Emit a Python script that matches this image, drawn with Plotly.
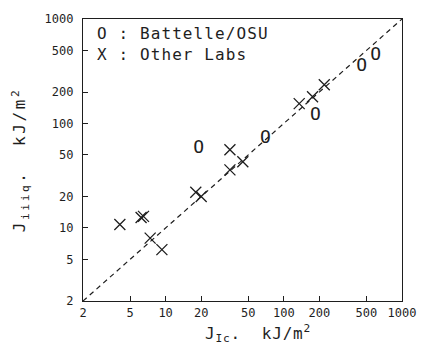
import plotly.graph_objects as go

# Battelle/OSU data (J_Ic, J_iiiq)
osu_jic = [19, 70, 185, 455, 600]
osu_jq = [57, 72, 120, 350, 450]

# Other labs data
oth_jic = [4.1, 6.2, 6.5, 7.4, 9.3, 18, 20, 35, 35, 45, 135, 175, 220]
oth_jq = [10.8, 12.6, 12.9, 8.0, 6.2, 22, 20, 56, 36, 43, 155, 180, 235]

line_x = [2, 1000]
line_y = [2, 1000]

tickvals = [2, 5, 10, 20, 50, 100, 200, 500, 1000]
ticktext = ["2", "5", "10", "20", "50", "100", "200", "500", "1000"]

ink = "#1e1e1e"
mono = "DejaVu Sans Mono"


def spaced(s, px):
    return '<span style="letter-spacing:%spx">%s</span>' % (px, s)


fig = go.Figure()
fig.add_trace(go.Scatter(x=line_x, y=line_y, mode="lines",
                         line=dict(color=ink, width=1.2, dash="5px,4px"),
                         hoverinfo="skip", showlegend=False))
fig.add_trace(go.Scatter(x=oth_jic, y=oth_jq, mode="markers",
                         marker=dict(symbol="x-thin-open", size=11, color=ink,
                                     line=dict(color=ink, width=1.3)),
                         showlegend=False))
fig.add_trace(go.Scatter(x=osu_jic, y=osu_jq, mode="text", text=["O"] * len(osu_jic),
                         textfont=dict(family=mono, size=18, color=ink),
                         textposition="middle center", showlegend=False))

axis_common = dict(type="log", tickvals=tickvals, ticktext=ticktext,
                   ticks="inside", ticklen=5, tickwidth=1.2, tickcolor=ink,
                   showline=True, linecolor=ink, linewidth=1.2, mirror=True,
                   showgrid=False, zeroline=False,
                   tickfont=dict(family=mono, size=12, color=ink))

fig.update_xaxes(range=[0.30103, 3], **axis_common)
fig.update_yaxes(range=[0.30103, 3], **axis_common, ticklabelstandoff=6,
                 title=dict(text=spaced("J<sub>iiiq</sub>.  kJ/m<sup>2</sup>", 2.6),
                            font=dict(family=mono, size=16, color=ink), standoff=14))

# x-axis title (offset to the right as in the reference)
fig.add_annotation(x=0.5, y=0, xref="paper", yref="paper", xanchor="center", yanchor="top",
                   xshift=15, yshift=-19, showarrow=False,
                   text=spaced("J<sub>Ic</sub>.  kJ/m<sup>2</sup>", 0.8),
                   font=dict(family=mono, size=16, color=ink))

fig.add_annotation(x=0, y=1, xref="paper", yref="paper", xanchor="left", yanchor="top",
                   xshift=12, yshift=-3, showarrow=False, align="left",
                   text=spaced("O : Battelle/OSU", 1.1) + "<br>" + spaced("X : Other Labs", 1.1),
                   font=dict(family=mono, size=16, color=ink))

fig.update_layout(width=428, height=356, margin=dict(l=83, r=21, t=13, b=55),
                  paper_bgcolor="white", plot_bgcolor="white")

fig.write_html("out.html")
